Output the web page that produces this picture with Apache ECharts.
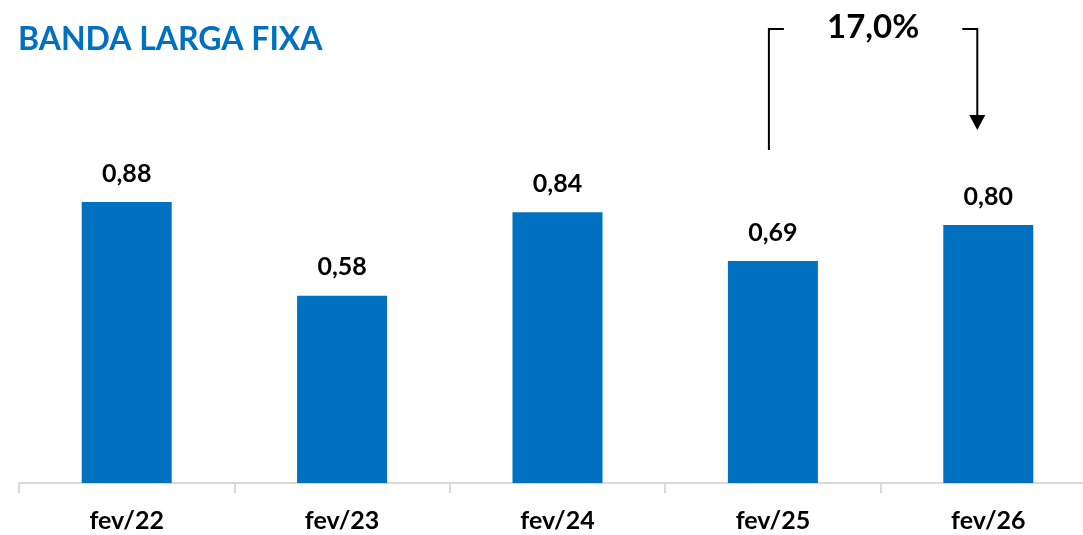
<!DOCTYPE html>
<html>
<head>
<meta charset="utf-8">
<script src="https://cdn.jsdelivr.net/npm/echarts@6/dist/echarts.min.js"></script>
<style>
  html, body { margin: 0; padding: 0; background: #fff; }
  #chart { width: 1083px; height: 535px; }
</style>
</head>
<body>
<div id="chart"></div>
<script>
const categories = ['fev/22', 'fev/23', 'fev/24', 'fev/25', 'fev/26']
// bar heights; labels show them rounded to 2 decimals
const values = [0.876, 0.584, 0.844, 0.692, 0.804]
const growthLabel = '17,0%'

const blue = '#0070C0'
const fontFamily = 'Lato, "Open Sans", sans-serif'

const chart = echarts.init(document.getElementById('chart'))

chart.setOption({
  animation: false,
  title: {
    text: 'BANDA LARGA FIXA',
    left: 13,
    top: 19,
    textStyle: { color: blue, fontSize: 32, fontWeight: 'bold', fontFamily },
  },
  grid: { left: 19, right: -13, top: 98, bottom: 52, outerBoundsMode: 'none' },
  xAxis: {
    type: 'category',
    data: categories,
    axisLine: { lineStyle: { color: '#d9d9d9', width: 2 } },
    axisTick: { show: true, length: 10, lineStyle: { color: '#d9d9d9', width: 2 } },
    axisLabel: {
      color: '#000',
      fontSize: 25,
      fontWeight: 'bold',
      fontFamily,
      margin: 25,
    },
  },
  yAxis: {
    type: 'value',
    min: 0,
    max: 1.2,
    show: false,
    splitLine: { show: false },
  },
  series: [
    {
      type: 'bar',
      data: values,
      barWidth: 90,
      itemStyle: { color: blue },
      label: {
        show: true,
        position: 'top',
        distance: 16,
        color: '#000',
        fontSize: 25,
        fontWeight: 'bold',
        fontFamily,
        formatter: (p) => p.value.toFixed(2).replace('.', ','),
      },
    },
  ],
})

// bracket annotation between the last two bars
const x25 = chart.convertToPixel({ xAxisIndex: 0 }, categories[3]) - 4
const x26 = chart.convertToPixel({ xAxisIndex: 0 }, categories[4]) - 11
const yTop = 29
const lineStyle = { stroke: '#000', lineWidth: 2 }

chart.setOption({
  graphic: [
    { type: 'polyline', shape: { points: [[x25 + 15, yTop], [x25, yTop], [x25, 150]] }, style: { ...lineStyle, fill: null } },
    { type: 'polyline', shape: { points: [[x26 - 15, yTop], [x26, yTop], [x26, 118]] }, style: { ...lineStyle, fill: null } },
    { type: 'polygon', shape: { points: [[x26 - 8, 115], [x26 + 8, 115], [x26, 130]] }, style: { fill: '#000' } },
    {
      type: 'text',
      x: (x25 + x26) / 2,
      y: 27,
      style: {
        text: growthLabel,
        fill: '#000',
        font: 'bold 33px ' + fontFamily,
        align: 'center',
        verticalAlign: 'middle',
      },
    },
  ],
})
</script>
</body>
</html>
